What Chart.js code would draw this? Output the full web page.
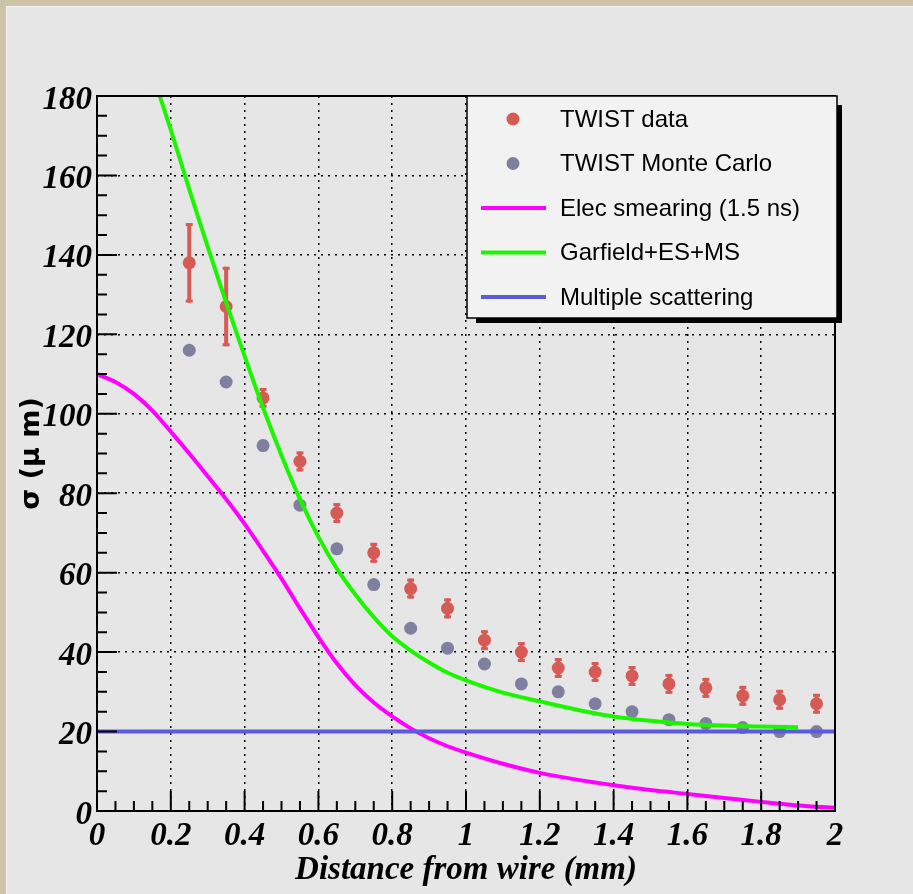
<!DOCTYPE html>
<html>
<head>
<meta charset="utf-8">
<title>Resolution vs distance from wire</title>
<script src="https://cdn.jsdelivr.net/npm/chart.js@4.4.1/dist/chart.umd.min.js"></script>
<style>
    html, body { margin: 0; padding: 0; background: #cbc4a6; }
    .panel {
        position: absolute; left: 6px; top: 6px; width: 907px; height: 888px;
        background: #e6e6e6; border-top: 1px solid #f6f6f2; border-left: 1px solid #f6f6f2;
        box-sizing: border-box;
    }
    #resChart { position: absolute; left: 0; top: 0; }
</style>
</head>
<body>
<div class="panel"></div>
<canvas id="resChart" width="913" height="894"></canvas>
<script>
// Measured resolution, one point per 0.1 mm bin
const binCenters = [0.25, 0.35, 0.45, 0.55, 0.65, 0.75, 0.85, 0.95, 1.05, 1.15, 1.25, 1.35, 1.45, 1.55, 1.65, 1.75, 1.85, 1.95];
const twistSigma = [138, 127, 104, 88, 75, 65, 56, 51, 43, 40, 36, 35, 34, 32, 31, 29, 28, 27];
const twistErr = [10, 10, 2.5, 2.5, 2.5, 2.5, 2.5, 2.5, 2.5, 2.5, 2.5, 2.5, 2.5, 2.5, 2.5, 2.5, 2.5, 2.5];
const mcSigma = [116, 108, 92, 77, 66, 57, 46, 41, 37, 32, 30, 27, 25, 23, 22, 21, 20, 20];

// Electronics smearing contribution
const esDist = [0, 0.05, 0.1, 0.15, 0.2, 0.25, 0.3, 0.35, 0.4, 0.45, 0.5, 0.55, 0.6, 0.65, 0.7, 0.75, 0.8, 0.85, 0.9, 0.95, 1.0, 1.1, 1.2, 1.3, 1.4, 1.5, 1.6, 1.7, 1.8, 1.9, 2.0];
const esSigma = [110, 108, 105, 100.8, 95.5, 90, 84.3, 78.5, 72.3, 65.5, 58.5, 51, 43.8, 37.2, 31.7, 27.3, 23.8, 20.8, 18.3, 16.3, 14.7, 11.9, 9.6, 7.9, 6.5, 5.3, 4.3, 3.3, 2.3, 1.4, 0.8];

// Garfield + electronics + multiple scattering
const garDist = [0.17, 0.2, 0.25, 0.3, 0.35, 0.4, 0.45, 0.5, 0.55, 0.6, 0.65, 0.7, 0.75, 0.8, 0.85, 0.9, 0.95, 1.0, 1.1, 1.2, 1.3, 1.4, 1.5, 1.6, 1.7, 1.8, 1.9];
const garSigma = [180, 171.5, 156.5, 142, 128, 114.5, 101.5, 89.5, 78.5, 69, 61, 54.5, 48.8, 44, 40.4, 37.4, 34.8, 32.9, 29.8, 27.6, 25.5, 23.8, 22.7, 21.9, 21.5, 21.3, 21.1];

// Multiple scattering floor
const msDist = [0, 2];
const msSigma = [20, 20];

const xTickLabels = ['0', '0.2', '0.4', '0.6', '0.8', '1', '1.2', '1.4', '1.6', '1.8', '2'];

const RED = '#d65a55';
const GREY = '#7f7f9f';
const MAGENTA = '#ff00ff';
const GREEN = '#1cf500';
const BLUE = '#5b5bdc';

function pts(xs, ys) {
    return xs.map((x, i) => ({x: x, y: ys[i]}));
}

const isMajorX = v => Math.abs(v / 0.2 - Math.round(v / 0.2)) < 1e-6;
const isMajorY = v => Math.abs(v / 20 - Math.round(v / 20)) < 1e-6;

const tickFont = {family: 'Liberation Serif', size: 33, style: 'italic', weight: 'bold'};

// Error bars for the data points, drawn under every dataset
const errorBars = {
    id: 'errorBars',
    beforeDatasetsDraw(chart) {
        const ctx = chart.ctx;
        const ys = chart.scales.y;
        const meta = chart.getDatasetMeta(0);
        ctx.save();
        ctx.fillStyle = RED;
        meta.data.forEach((pt, i) => {
            const v = twistSigma[i], e = twistErr[i];
            const top = ys.getPixelForValue(v + e);
            const bot = ys.getPixelForValue(v - e);
            ctx.fillRect(pt.x - 2, top, 4, bot - top);
            ctx.fillRect(pt.x - 3.5, top, 7, 3);
            ctx.fillRect(pt.x - 3.5, bot - 3, 7, 3);
        });
        ctx.restore();
    }
};

// Frame, inward ticks and the boxed legend
const frameAndLegend = {
    id: 'frameAndLegend',
    afterDraw(chart) {
        const ctx = chart.ctx;
        const ca = chart.chartArea;
        const xs = chart.scales.x, ys = chart.scales.y;
        ctx.save();
        ctx.strokeStyle = '#000';
        ctx.lineWidth = 2;
        ctx.strokeRect(ca.left, ca.top, ca.right - ca.left, ca.bottom - ca.top);

        ctx.beginPath();
        xs.ticks.forEach(t => {
            const px = xs.getPixelForValue(t.value);
            const len = isMajorX(t.value) ? 20 : 10;
            ctx.moveTo(px, ca.bottom);
            ctx.lineTo(px, ca.bottom - len);
        });
        ys.ticks.forEach(t => {
            const py = ys.getPixelForValue(t.value);
            const len = isMajorY(t.value) ? 20 : 10;
            ctx.moveTo(ca.left, py);
            ctx.lineTo(ca.left + len, py);
        });
        ctx.stroke();

        // legend box with drop shadow
        const bx = ca.left + 370, by = ca.top, bw = 370, bh = 222;
        ctx.fillStyle = '#000';
        ctx.fillRect(bx + 9, by + 9, bw - 4, bh - 4);
        ctx.fillStyle = '#f2f2f2';
        ctx.fillRect(bx, by, bw, bh);
        ctx.lineWidth = 1.5;
        ctx.strokeRect(bx, by, bw, bh);

        ctx.font = '24px "Liberation Sans"';
        ctx.textBaseline = 'middle';
        ctx.textAlign = 'left';
        chart.data.datasets.forEach((ds, i) => {
            const cy = by + 23 + i * 44.5;
            if (ds.showLine === false) {
                ctx.fillStyle = ds.backgroundColor;
                ctx.beginPath();
                ctx.arc(bx + 46, cy, 6.5, 0, Math.PI * 2);
                ctx.fill();
            } else {
                ctx.strokeStyle = ds.borderColor;
                ctx.lineWidth = 4;
                ctx.beginPath();
                ctx.moveTo(bx + 14, cy);
                ctx.lineTo(bx + 79, cy);
                ctx.stroke();
            }
            ctx.fillStyle = '#000';
            ctx.fillText(ds.label, bx + 93, cy + 1);
        });
        ctx.restore();
    }
};

new Chart(document.getElementById('resChart'), {
    type: 'line',
    data: {
        datasets: [
            {
                label: 'TWIST data',
                data: pts(binCenters, twistSigma),
                showLine: false,
                pointRadius: 6.5,
                pointBorderWidth: 0,
                backgroundColor: RED,
                borderColor: RED,
                order: 10
            },
            {
                label: 'TWIST Monte Carlo',
                data: pts(binCenters, mcSigma),
                showLine: false,
                pointRadius: 6.5,
                pointBorderWidth: 0,
                backgroundColor: GREY,
                borderColor: GREY,
                order: 11
            },
            {
                label: 'Elec smearing (1.5 ns)',
                data: pts(esDist, esSigma),
                borderColor: MAGENTA,
                borderWidth: 4,
                pointRadius: 0,
                cubicInterpolationMode: 'monotone',
                order: 3
            },
            {
                label: 'Garfield+ES+MS',
                data: pts(garDist, garSigma),
                borderColor: GREEN,
                borderWidth: 4,
                pointRadius: 0,
                cubicInterpolationMode: 'monotone',
                order: 2
            },
            {
                label: 'Multiple scattering',
                data: pts(msDist, msSigma),
                borderColor: BLUE,
                borderWidth: 4,
                pointRadius: 0,
                order: 1
            }
        ]
    },
    options: {
        responsive: false,
        animation: false,
        devicePixelRatio: 1,
        layout: {padding: {top: 96, right: 78, left: 0, bottom: 0}},
        plugins: {legend: {display: false}, tooltip: {enabled: false}},
        scales: {
            x: {
                type: 'linear',
                min: 0,
                max: 2,
                afterFit(scale) { scale.height = 83; },
                ticks: {
                    stepSize: 0.05,
                    maxTicksLimit: 100,
                    autoSkip: false,
                    maxRotation: 0,
                    padding: 6,
                    color: '#000',
                    font: tickFont,
                    callback: v => isMajorX(v) ? xTickLabels[Math.round(v / 0.2)] : ''
                },
                grid: {
                    drawTicks: false,
                    lineWidth: 1.5,
                    color: c => (c.tick && isMajorX(c.tick.value)) ? '#000' : 'rgba(0,0,0,0)'
                },
                border: {display: false, dash: [2, 5]},
                title: {
                    display: true,
                    text: 'Distance from wire (mm)',
                    color: '#000',
                    font: tickFont,
                    padding: {top: 0, bottom: 4}
                }
            },
            y: {
                min: 0,
                max: 180,
                afterFit(scale) { scale.width = 97; },
                ticks: {
                    stepSize: 5,
                    maxTicksLimit: 100,
                    autoSkip: false,
                    padding: 5,
                    labelOffset: 4,
                    color: '#000',
                    font: tickFont,
                    callback: v => isMajorY(v) ? String(v) : ''
                },
                grid: {
                    drawTicks: false,
                    lineWidth: 1.5,
                    color: c => (c.tick && isMajorY(c.tick.value)) ? '#000' : 'rgba(0,0,0,0)'
                },
                border: {display: false, dash: [2, 5]},
                title: {
                    display: true,
                    text: 'σ (μ m)',
                    color: '#000',
                    font: {family: 'DejaVu Sans', size: 27, weight: 'bold'},
                    padding: {top: 16, bottom: 0}
                }
            }
        }
    },
    plugins: [errorBars, frameAndLegend]
});
</script>
</body>
</html>
